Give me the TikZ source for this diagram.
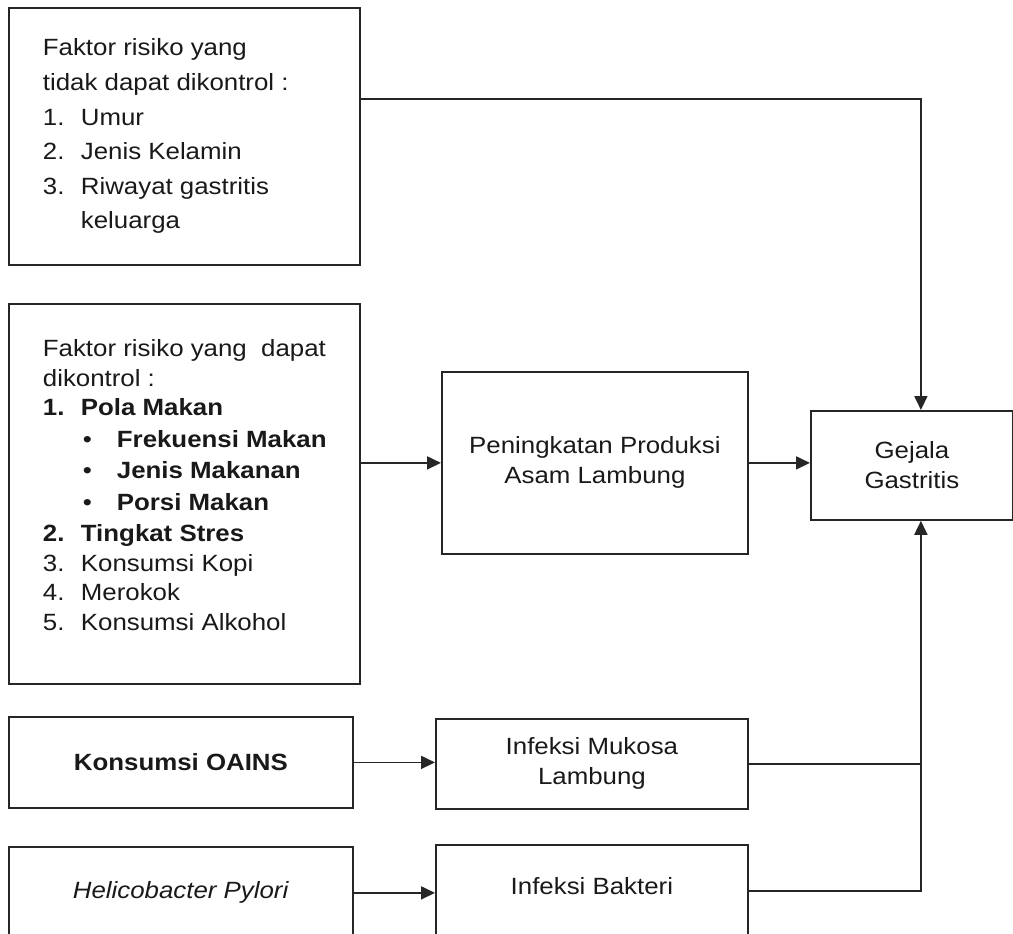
\documentclass[tikz,border=0pt]{standalone}
\usepackage{fontspec}
\setmainfont[FakeStretch=1.1]{Liberation Sans}
\usetikzlibrary{arrows.meta}

\newcommand{\itemno}[1]{\makebox[38pt][l]{#1}}
\newcommand{\itembul}{\hspace*{40pt}\makebox[34pt][l]{\textbullet}}

\begin{document}
\begin{tikzpicture}[x=1pt, y=-1pt, line width=1.8pt,
    box/.style={draw=black!85, rectangle, anchor=north west, inner sep=0pt,
        align=center, text=black!90, font=\fontsize{23.5}{30}\selectfont},
    listtext/.style={anchor=north west, inner sep=0pt, align=left, text=black!90},
    arrow/.style={-{Triangle[length=14pt, width=13pt]}}]
    \useasboundingbox (0,0) rectangle (1013,934);
    \clip (0,0) rectangle (1013,934);

    % Faktor risiko yang tidak dapat dikontrol
    \node[box, minimum width=351pt, minimum height=257pt] (tidak) at (8,7) {};
    \node[listtext, font=\fontsize{23.5}{34.6}\selectfont] (tidak-txt) at (42,38) {%
        Faktor risiko yang\\
        tidak dapat dikontrol :\\
        \itemno{1.}Umur\\
        \itemno{2.}Jenis Kelamin\\
        \itemno{3.}Riwayat gastritis\\
        \itemno{}keluarga};

    % Faktor risiko yang dapat dikontrol
    \node[box, minimum width=351pt, minimum height=380pt] (dapat) at (8,303) {};
    \node[listtext, font=\fontsize{23.5}{29.5}\selectfont] (dapat-txt) at (42,339) {%
        Faktor risiko yang \ dapat\\
        dikontrol :\\
        \textbf{\itemno{1.}Pola Makan}\\[2pt]
        \itembul\textbf{Frekuensi Makan}\\[2pt]
        \itembul\textbf{Jenis Makanan}\\[2pt]
        \itembul\textbf{Porsi Makan}\\[2pt]
        \textbf{\itemno{2.}Tingkat Stres}\\
        \itemno{3.}Konsumsi Kopi\\
        \itemno{4.}Merokok\\
        \itemno{5.}Konsumsi Alkohol};

    % Tengah
    \node[box, minimum width=306pt, minimum height=182pt] (naik) at (441,371)
        {Peningkatan Produksi\\Asam Lambung};
    \node[box, minimum width=202pt, minimum height=109pt] (gejala) at (810,410)
        {Gejala\\Gastritis};

    % Bawah
    \node[box, minimum width=344pt, minimum height=91pt] (oains) at (8,716)
        {\textbf{Konsumsi OAINS}};
    \node[box, minimum width=312pt, minimum height=90pt] (mukosa) at (435,718)
        {Infeksi Mukosa\\Lambung};
    \node[box, minimum width=344pt, minimum height=92pt] (hp) at (8,846)
        {\textit{Helicobacter Pylori}};
    \node[box, minimum width=312pt, minimum height=92pt] (bakteri) at (435,844)
        {\raisebox{10pt}{Infeksi Bakteri}};

    % Panah
    \coordinate (tidak-out) at (tidak.east |- 0,99);
    \coordinate (gejala-atas) at ([xshift=9pt]gejala.north);
    \coordinate (gejala-bawah) at ([xshift=9pt]gejala.south);
    \draw[arrow, black!85] (tidak-out) -| (gejala-atas);
    \draw[arrow, black!85] (dapat.east |- naik.west) -- (naik.west);
    \draw[arrow, black!85] (naik.east) -- (gejala.west |- naik.east);
    \draw[arrow, black!85] (oains.east) -- (mukosa.west |- oains.east);
    \draw[arrow, black!85] (hp.east) -- (bakteri.west |- hp.east);
    \draw[arrow, black!85] (mukosa.east) -| (gejala-bawah);
    \draw[black!85] (bakteri.east) -| (gejala-bawah |- mukosa.east);
\end{tikzpicture}
\end{document}
